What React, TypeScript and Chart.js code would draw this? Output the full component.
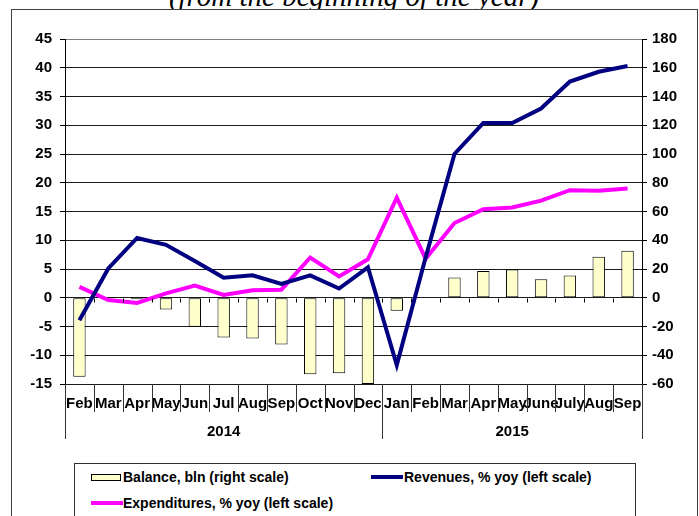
import React, { useEffect, useRef } from "react";
import { Chart, registerables } from "chart.js";

Chart.register(...registerables);

// ---- data ----
const months = [
  "Feb", "Mar", "Apr", "May", "Jun", "Jul", "Aug", "Sep", "Oct", "Nov", "Dec",
  "Jan", "Feb", "Mar", "Apr", "May", "June", "July", "Aug", "Sep",
];
const yearLabels = ["2014", "2015"];
const yearCounts = [11, 9];

const balance = [
  -55, -0.3, -1, -8.1, -20.2, -27.6, -28.3, -32.5, -53.3, -52.6, -60,
  -9, -0.3, 14.1, 18.6, 19.7, 12.8, 15.5, 28.5, 32.7,
];
const revenues = [
  -3.9, 5.1, 10.4, 9.2, 6.4, 3.5, 3.9, 2.4, 3.9, 1.6, 5.3,
  -11.7, 7.0, 25.0, 30.4, 30.4, 32.9, 37.6, 39.3, 40.3,
];
const expenditures = [
  1.9, -0.4, -0.9, 0.75, 2.1, 0.5, 1.3, 1.4, 7.0, 3.7, 6.7,
  17.4, 6.8, 13.0, 15.4, 15.7, 16.9, 18.7, 18.6, 19.0,
];

const leftMin = -15;
const leftMax = 45;
const leftStep = 5;
const rightMin = -60;
const rightMax = 180;
const rightStep = 20;

const titleText = "(from the beginning of the year)";
const legendBalance = "Balance, bln (right scale)";
const legendRevenues = "Revenues, % yoy (left scale)";
const legendExpenditures = "Expenditures, % yoy (left scale)";

const FONT = "'Liberation Sans', Arial, Helvetica, sans-serif";
const AXIS_FONT_SIZE = 15;

const decorPlugin = {
  id: "decor",
  afterDraw(chart: any) {
    const ctx = chart.ctx as CanvasRenderingContext2D;
    const xs = chart.scales.x;
    const ys = chart.scales.y;
    const { left, right, bottom } = chart.chartArea;
    const n = months.length;
    const half = (xs.getPixelForValue(1) - xs.getPixelForValue(0)) / 2;
    const boundary = (i: number) => {
      if (i === 0) return left;
      if (i === n) return right;
      return xs.getPixelForValue(i) - half;
    };
    const y0 = Math.round(ys.getPixelForValue(0)) + 0.5;
    ctx.save();
    ctx.strokeStyle = "#000";
    ctx.lineWidth = 1;
    // tick marks on zero line
    for (let i = 1; i < n; i++) {
      const bx = Math.round(boundary(i)) + 0.5;
      ctx.beginPath();
      ctx.moveTo(bx, y0);
      ctx.lineTo(bx, y0 + 4);
      ctx.stroke();
    }
    // group boundaries
    const groupIdx: number[] = [0];
    let acc = 0;
    yearCounts.forEach((c) => {
      acc += c;
      groupIdx.push(acc);
    });
    ctx.strokeStyle = "#333";
    for (let i = 0; i <= n; i++) {
      const bx = Math.round(boundary(i)) + 0.5;
      const isGroup = groupIdx.indexOf(i) >= 0;
      ctx.beginPath();
      ctx.moveTo(bx, bottom);
      ctx.lineTo(bx, bottom + (isGroup ? 55 : 28));
      ctx.stroke();
    }
    // year labels
    ctx.fillStyle = "#000";
    ctx.font = `bold ${AXIS_FONT_SIZE}px ${FONT}`;
    ctx.textAlign = "center";
    ctx.textBaseline = "middle";
    for (let g = 0; g < yearLabels.length; g++) {
      const a = boundary(groupIdx[g]);
      const b = boundary(groupIdx[g + 1]);
      ctx.fillText(yearLabels[g], (a + b) / 2, bottom + 48);
    }
    ctx.restore();
  },
};

export default function App() {
  const canvasRef = useRef<HTMLCanvasElement | null>(null);

  useEffect(() => {
    const canvas = canvasRef.current;
    if (!canvas) return;
    const chart = new Chart(canvas, {
      type: "bar",
      data: {
        labels: months,
        datasets: [
          {
            type: "line",
            label: legendRevenues,
            data: revenues,
            yAxisID: "y",
            borderColor: "#000080",
            backgroundColor: "#000080",
            borderWidth: 4,
            pointRadius: 0,
            tension: 0,
            order: 0,
          } as any,
          {
            type: "line",
            label: legendExpenditures,
            data: expenditures,
            yAxisID: "y",
            borderColor: "#FF00FF",
            backgroundColor: "#FF00FF",
            borderWidth: 4,
            pointRadius: 0,
            tension: 0,
            order: 1,
          } as any,
          {
            type: "bar",
            label: legendBalance,
            data: balance,
            yAxisID: "y1",
            backgroundColor: "#FFFFCC",
            borderColor: "#000000",
            borderWidth: 1,
            borderSkipped: false,
            categoryPercentage: 1,
            barPercentage: 0.43,
            order: 2,
          } as any,
        ],
      },
      options: {
        responsive: false,
        animation: false,
        maintainAspectRatio: false,
        layout: { padding: { top: 39, left: 0, right: 0, bottom: 0 } },
        plugins: {
          legend: { display: false },
          tooltip: { enabled: false },
          title: { display: false },
        },
        scales: {
          x: {
            type: "category",
            offset: true,
            grid: { display: false, drawTicks: false },
            border: { display: false },
            ticks: {
              autoSkip: false,
              maxRotation: 0,
              minRotation: 0,
              padding: 11,
              color: "#000",
              font: { family: FONT, size: AXIS_FONT_SIZE, weight: "bold" },
            },
            afterFit(scale: any) {
              scale.height = 132;
            },
          },
          y: {
            position: "left",
            min: leftMin,
            max: leftMax,
            ticks: {
              stepSize: leftStep,
              padding: 8,
              color: "#000",
              font: { family: FONT, size: AXIS_FONT_SIZE, weight: "bold" },
            },
            grid: {
              drawOnChartArea: true,
              drawTicks: true,
              tickLength: 5,
              color: (c: any) => (c.tick && c.tick.value === leftMax ? "#808080" : "#1a1a1a"),
              tickColor: "#000",
              lineWidth: 1,
            },
            border: { display: true, color: "#000", width: 1 },
            afterFit(scale: any) {
              scale.width = 65;
            },
          },
          y1: {
            position: "right",
            min: rightMin,
            max: rightMax,
            ticks: {
              stepSize: rightStep,
              padding: 5,
              color: "#000",
              font: { family: FONT, size: AXIS_FONT_SIZE, weight: "bold" },
            },
            grid: {
              drawOnChartArea: false,
              drawTicks: true,
              tickLength: 5,
              tickColor: "#000",
            },
            border: { display: true, color: "#000", width: 1 },
            afterFit(scale: any) {
              scale.width = 57;
            },
          },
        },
      } as any,
      plugins: [decorPlugin],
    });
    return () => chart.destroy();
  }, []);

  const legendText: React.CSSProperties = {
    position: "absolute",
    font: `bold 14px ${FONT}`,
    lineHeight: "16px",
    color: "#000",
    whiteSpace: "nowrap",
  };

  return (
    <div
      style={{
        position: "fixed",
        left: 0,
        top: 0,
        width: 699,
        height: 516,
        overflow: "hidden",
        background: "#fff",
      }}
    >
      <div
        style={{
          position: "absolute",
          left: 354,
          top: -18,
          transform: "translateX(-50%)",
          font: "italic 29px 'Liberation Serif', 'Times New Roman', serif",
          lineHeight: "29px",
          whiteSpace: "nowrap",
          color: "#000",
        }}
      >
        {titleText}
      </div>
      <div
        style={{
          position: "absolute",
          left: 11,
          top: 9,
          width: 687,
          height: 600,
          border: "1px solid #404040",
          boxSizing: "border-box",
          background: "#fff",
        }}
      />
      <canvas
        ref={canvasRef}
        width={699}
        height={516}
        style={{ position: "absolute", left: 0, top: 0, width: 699, height: 516 }}
      />
      <div
        style={{
          position: "absolute",
          left: 74,
          top: 463,
          width: 562,
          height: 100,
          border: "1px solid #303030",
          boxSizing: "border-box",
          background: "#fff",
        }}
      />
      <div
        style={{
          position: "absolute",
          left: 91,
          top: 474,
          width: 30,
          height: 7,
          background: "#FFFFCC",
          border: "1px solid #000",
          boxSizing: "border-box",
        }}
      />
      <div style={{ ...legendText, left: 123, top: 469 }}>{legendBalance}</div>
      <div
        style={{ position: "absolute", left: 371, top: 475, width: 32, height: 4, background: "#000080" }}
      />
      <div style={{ ...legendText, left: 404, top: 469 }}>{legendRevenues}</div>
      <div
        style={{ position: "absolute", left: 91, top: 501, width: 32, height: 4, background: "#FF00FF" }}
      />
      <div style={{ ...legendText, left: 123, top: 495 }}>{legendExpenditures}</div>
    </div>
  );
}
